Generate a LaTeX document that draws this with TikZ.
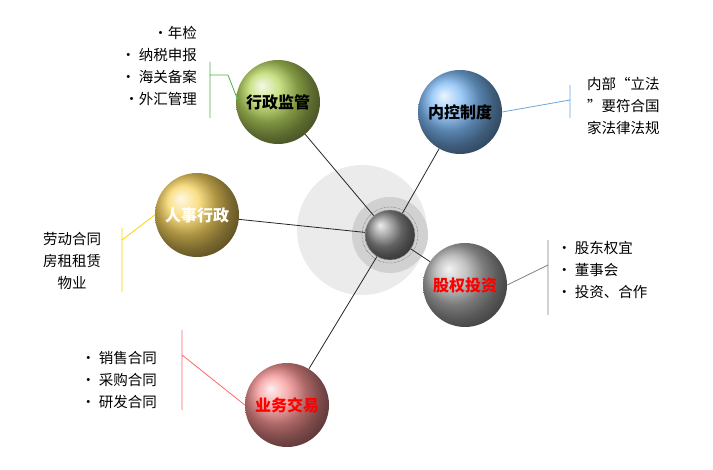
\documentclass[tikz,border=0pt]{standalone}
\usepackage{fontspec}
\newfontfamily\cjk{Noto Sans CJK SC}
\definecolor{bg}{RGB}{185,215,95}
\definecolor{bb}{RGB}{125,185,245}
\definecolor{by}{RGB}{248,212,95}
\definecolor{bs}{RGB}{175,175,175}
\definecolor{bp}{RGB}{245,145,145}
\begin{document}
\begin{tikzpicture}[x=1pt,y=-1pt,font=\cjk\fontsize{14.5}{22}\selectfont,
 ball/.style={circle,minimum size=84pt,inner sep=0pt},
 lab/.style={font=\cjk\bfseries\fontsize{16}{18}\selectfont},
 conn/.style={draw=black!85,line width=0.8pt},
 txt/.style={inner sep=1pt,align=left}]
\useasboundingbox (0,0) rectangle (713,470);
\fill[black!8] (362,230) circle (65);
\fill[black!18] (390,235) circle (38);
\node[circle,minimum size=50pt,inner sep=0pt,ball color=black!45,draw=black!40] (c) at (390,235) {};
\draw[densely dotted,black!80] (390,235) circle (28);
\node[ball,ball color=bg] (g) at (278,102) {};
\node[lab] at (278,102) {行政监管};
\node[ball,ball color=bb] (b) at (460,112) {};
\node[lab] at (460,112) {内控制度};
\node[ball,ball color=by] (y) at (197,215) {};
\node[lab,text=white] at (197,215) {人事行政};
\node[ball,ball color=bs] (s) at (465,285) {};
\node[lab,text=red] at (465,285) {股权投资};
\node[ball,ball color=bp] (p) at (287,405) {};
\node[lab,text=red] at (287,405) {业务交易};
\draw[conn] (g) -- (c); \draw[conn] (b) -- (c); \draw[conn] (y) -- (c);
\draw[conn] (s) -- (c); \draw[conn] (p) -- (c);
\coordinate (g1) at (237,98);
\draw[green!55!black!70,line width=0.8pt] (210,62) -- (210,118) (210,75) -- (228,75) -- (g1);
\fill[green!60!black!60] (g1) circle (1.5);
\node[txt,anchor=east,align=right] at (198,66) {•年检\\• 纳税申报\\• 海关备案\\•外汇管理};
\draw[cyan!60!blue!60,line width=0.8pt] (b.east) -- (570,100) (570,85) -- (570,118);
\node[txt,anchor=west] at (586,106) {内部“立法\\”要符合国\\家法律法规};
\draw[yellow!70!orange,line width=0.8pt] (y.west) -- (122,240) (122,228) -- (122,292);
\node[txt,align=center] at (72,261) {劳动合同\\房租租赁\\物业};
\draw[black!50,line width=0.8pt] (s.east) -- (548,265) (548,240) -- (548,315);
\node[txt,anchor=west] at (556,270) {• 股东权宜\\• 董事会\\• 投资、合作};
\draw[red!60,line width=0.8pt] (p.west) -- (182,355) (182,330) -- (182,410);
\node[txt,anchor=west] at (80,380) {• 销售合同\\• 采购合同\\• 研发合同};
\end{tikzpicture}
\end{document}
